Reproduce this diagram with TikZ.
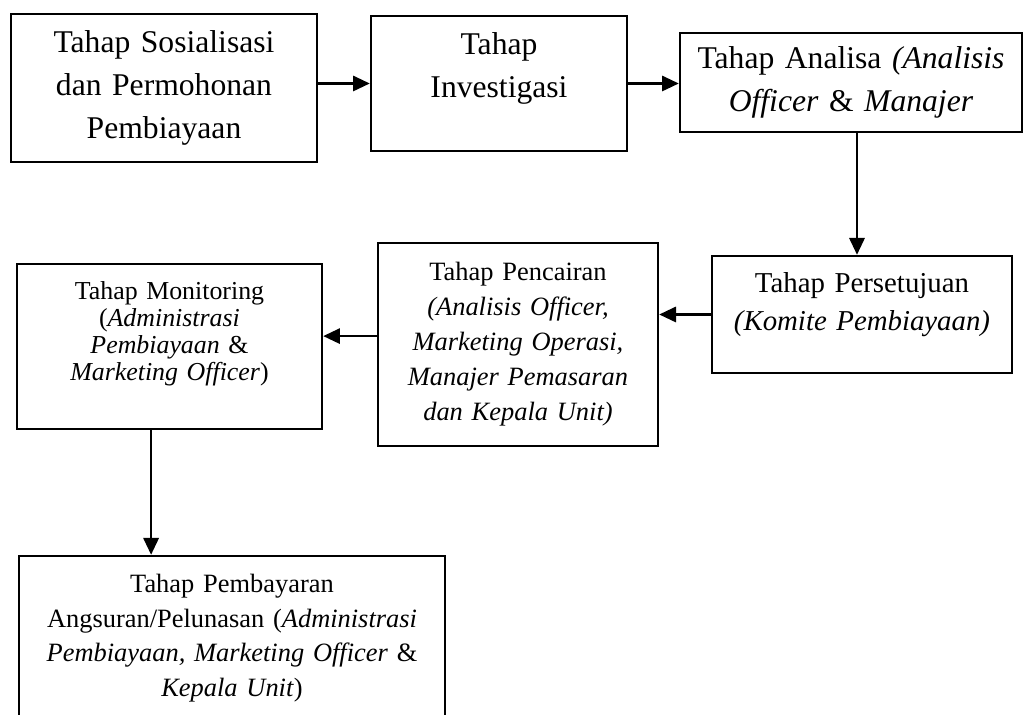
\documentclass[tikz,border=0pt]{standalone}
\usepackage{fontspec}
\setmainfont{Liberation Serif}
\usepackage{tikz}
\usetikzlibrary{positioning}
\usetikzlibrary{arrows.meta}

\begin{document}
\begin{tikzpicture}[
kotak/.style={draw, line width=1.7pt, inner sep=0pt, align=center},
panah/.style={line width=1.8pt, -{Triangle[length=0.42cm,width=0.38cm]}}]

\useasboundingbox (0,0) rectangle (25.625,17.875);

\node[kotak, text width=7.65cm, minimum height=3.7cm, font=\fontsize{22.5}{30.6}\selectfont] (sosial) at (4.1,15.675) {Tahap Sosialisasi\\dan Permohonan\\Pembiayaan};

\node[kotak, text width=6.4cm, minimum height=3.375cm, font=\fontsize{22.5}{30.6}\selectfont] (invest) at (12.475,15.7875) {Tahap\\Investigasi\rule[-0.9cm]{0pt}{0pt}};

\node[kotak, text width=8.55cm, minimum height=2.475cm, font=\fontsize{22.5}{30.6}\selectfont] (analisa) at (21.275,15.8125) {Tahap Analisa \textit{(Analisis}\\\textit{Officer} \& \textit{Manajer}};

\node[kotak, text width=7.5cm, minimum height=2.925cm, font=\fontsize{20.5}{27}\selectfont] (setuju) at (21.55,10.0125) {Tahap Persetujuan\\\textit{(Komite Pembiayaan)}\rule[-0.635cm]{0pt}{0pt}};

\node[kotak, text width=7cm, minimum height=5.075cm, font=\fontsize{18.8}{24.9}\selectfont] (cair) at (12.95,9.2625) {Tahap Pencairan\\\textit{(Analisis Officer,}\\\textit{Marketing Operasi,}\\\textit{Manajer Pemasaran}\\\textit{dan Kepala Unit)}};

\node[kotak, text width=7.625cm, minimum height=4.125cm, font=\fontsize{18.4}{19.2}\selectfont] (monitor) at (4.2375,9.2125) {Tahap Monitoring\\(\textit{Administrasi}\\\textit{Pembiayaan} \&\\\textit{Marketing Officer})\rule[-0.77cm]{0pt}{0pt}};

\node[kotak, text width=10.65cm, minimum height=4.1cm, font=\fontsize{18.8}{24.5}\selectfont] (bayar) at (5.8,1.925) {Tahap Pembayaran\\Angsuran/Pelunasan (\textit{Administrasi}\\\textit{Pembiayaan, Marketing Officer} \&\\\textit{Kepala Unit})};

\draw[panah] (sosial.east |- invest.west) -- (invest.west);
\draw[panah] (invest.east) -- (invest.east -| analisa.west);
\draw[panah] ([xshift=0.15cm]analisa.south) -- ([xshift=0.15cm]analisa.south |- setuju.north);
\draw[panah] (setuju.west) -- (setuju.west -| cair.east);
\draw[panah] ([yshift=0.21cm]cair.west) -- ([yshift=0.21cm]cair.west -| monitor.east);
\draw[panah] ([xshift=-0.46cm]monitor.south) -- ([xshift=-0.46cm]monitor.south |- bayar.north);

\end{tikzpicture}
\end{document}
